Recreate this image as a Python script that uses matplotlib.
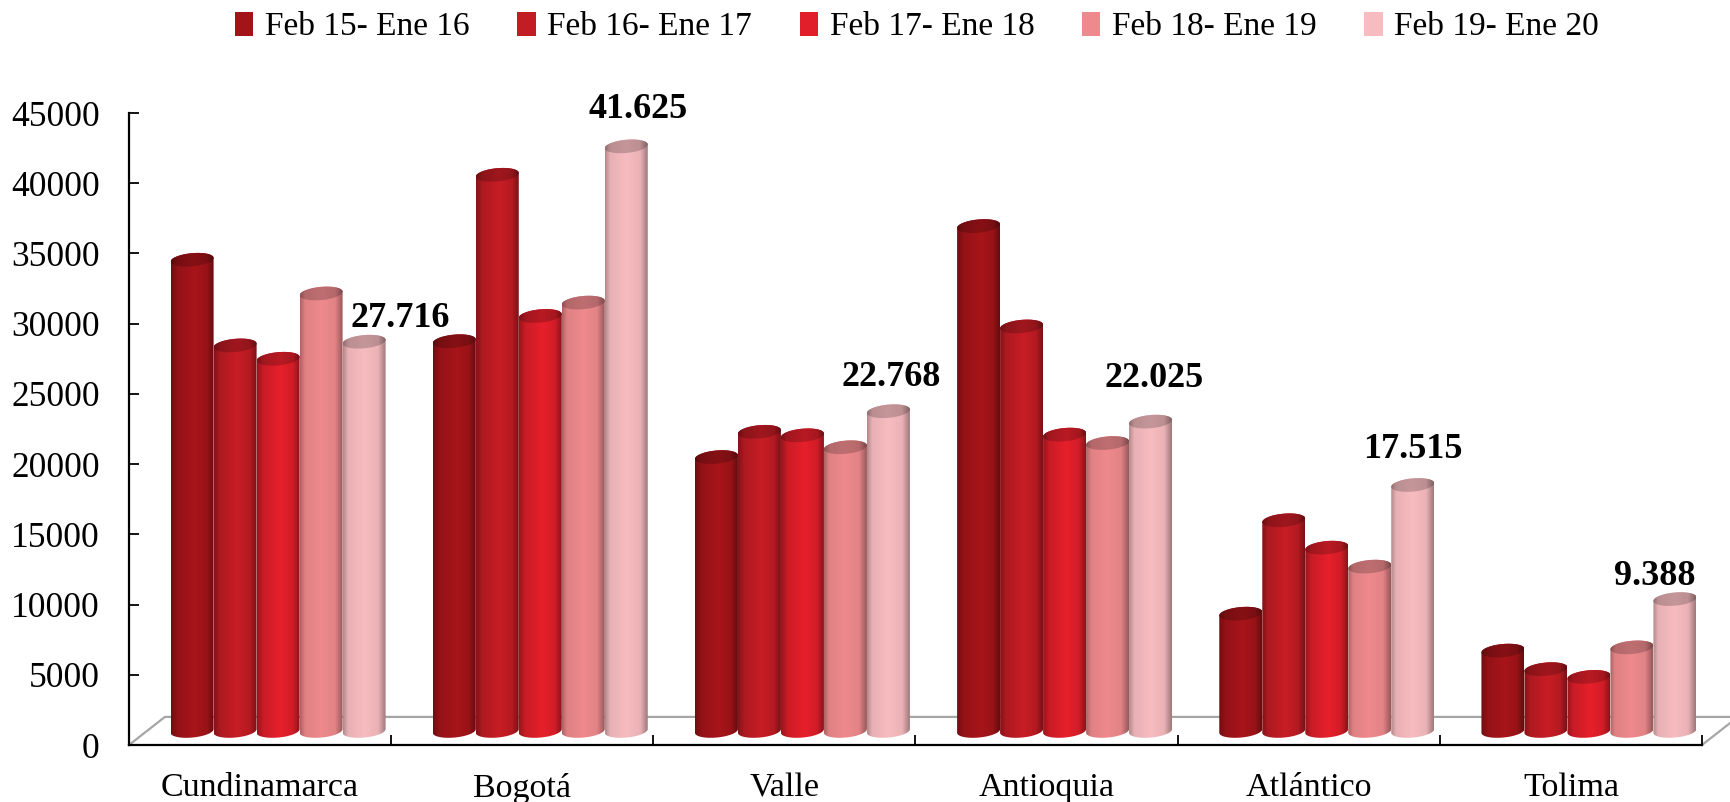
import numpy as np
import matplotlib
matplotlib.use("Agg")
import matplotlib.pyplot as plt
from matplotlib.colors import LinearSegmentedColormap, to_rgb
from matplotlib.patches import Patch, PathPatch
from matplotlib.path import Path

plt.rcParams["font.family"] = ["Liberation Serif", "DejaVu Serif"]

categorias = ["Cundinamarca", "Bogotá", "Valle", "Antioquia", "Atlántico", "Tolima"]
periodos = ["Feb 15- Ene 16", "Feb 16- Ene 17", "Feb 17- Ene 18", "Feb 18- Ene 19", "Feb 19- Ene 20"]

feb15 = [33550, 27750, 19500, 35950, 8350, 5720]
feb16 = [27450, 39600, 21300, 28800, 15000, 4400]
feb17 = [26500, 29550, 21050, 21100, 13050, 3850]
feb18 = [31150, 30500, 20200, 20500, 11700, 5950]
feb19 = [27716, 41625, 22768, 22025, 17515, 9388]
series = [feb15, feb16, feb17, feb18, feb19]

colores = ["#A31419", "#C21C24", "#E01F2A", "#EE8A8D", "#F7BCC0"]
yticks = np.arange(0, 45001, 5000)

# desplazamiento de cada etiqueta respecto a la cima del cilindro (px)
offset_etiquetas = [(36, 23), (12, 37), (3, 34), (4, 43), (0, 35), (-20, 23)]

W, H = 1730, 802
fig = plt.figure(figsize=(W / 100, H / 100), dpi=100)
ax = fig.add_axes([129 / W, 1 - 745 / H, (1702 - 129) / W, (745 - 113) / H])

PROF_Y = 1000      # base del cilindro sobre el suelo
ANCHO = 0.164
SHIFT = 0.0687
B = 470            # semieje vertical de la elipse


def gradiente(color, oscuro=1.0):
    c = np.array(to_rgb(color)) * oscuro
    if sum(to_rgb(color)) > 2:
        # los rosas tienen el borde derecho grisaceo
        stops = [(0, c * 0.72), (0.12, c * 0.94), (0.5, c), (0.82, c * 0.95), (1, c * 0.64)]
    else:
        stops = [(0, c * 0.68), (0.15, c * 0.9), (0.55, c * 1.03), (0.84, c * 0.93), (1, c * 0.62)]
    return LinearSegmentedColormap.from_list("g", [(p, tuple(np.clip(v, 0, 1))) for p, v in stops])


def elipse_pts(cx, cy, a, t):
    return cx + a * np.cos(t), cy + B * np.sin(t) + B * 0.28 * np.cos(t)


def cilindro(ax, x0, w, v, color, z):
    cx, a = x0 + w / 2, w / 2
    base, top = PROF_Y, PROF_Y + v
    grad = np.linspace(0, 1, 128)[None, :]

    # cuerpo: mitad inferior de la elipse de abajo + mitad superior de la de arriba
    t_low = np.linspace(np.pi, 2 * np.pi, 40)
    xb, yb = elipse_pts(cx, base, a, t_low)
    t_up = np.linspace(0, np.pi, 40)
    xt, yt = elipse_pts(cx, top, a, t_up)
    verts = np.vstack([np.c_[xb, yb], np.c_[xt, yt], [[xb[0], yb[0]]]])
    im = ax.imshow(grad, extent=[x0, x0 + w, base - 2 * B, top + 2 * B], aspect="auto",
                   cmap=gradiente(color), vmin=0, vmax=1, zorder=z, interpolation="bilinear")
    im.set_clip_path(PathPatch(Path(verts), transform=ax.transData))

    # tapa superior, mas oscura
    t = np.linspace(0, 2 * np.pi, 80)
    xe, ye = elipse_pts(cx, top, a, t)
    im2 = ax.imshow(grad, extent=[x0, x0 + w, top - 2 * B, top + 2 * B], aspect="auto",
                    cmap=gradiente(color, 0.8), vmin=0, vmax=1, zorder=z + 0.1, interpolation="bilinear")
    im2.set_clip_path(PathPatch(Path(np.c_[xe, ye]), transform=ax.transData))


z = 3
for i in range(len(categorias)):
    inicio = i + 0.5 + SHIFT - ANCHO * len(series) / 2
    for j, s in enumerate(series):
        cilindro(ax, inicio + j * ANCHO, ANCHO, s[i], colores[j], z)
        z += 1

for i, (dx, dy) in enumerate(offset_etiquetas):
    xc = i + 0.5 + SHIFT + ANCHO * (len(series) / 2 - 0.5)
    txt = f"{feb19[i]:,}".replace(",", ".")
    ax.annotate(txt, (xc, feb19[i] + PROF_Y), xytext=(dx, dy), textcoords="offset pixels",
                ha="center", va="center", fontsize=26, fontweight="bold", color="black",
                zorder=100, annotation_clip=False)

# suelo 3D
gris = "#A6A6A6"
ax.plot([0, 0.137, 6.137], [0, 2000, 2000], color=gris, lw=1.6, zorder=1, clip_on=False)
ax.plot([6, 6.137], [0, 2000], color=gris, lw=1.6, zorder=1, clip_on=False)

ax.set_xlim(0, 6)
ax.set_ylim(0, 45000)
ax.set_yticks(yticks)
ax.set_xticks(np.arange(0, 7))
ax.set_xticklabels([])
ax.set_xticks(np.arange(len(categorias)) + 0.5, categorias, minor=True)
ax.tick_params(axis="y", direction="in", length=7.5, width=1.3, labelsize=25.5, pad=21)
ax.tick_params(axis="x", which="major", direction="in", length=7.5, width=1.3)
ax.tick_params(axis="x", which="minor", length=0, labelsize=24.5, pad=20)
for lado in ["top", "right"]:
    ax.spines[lado].set_visible(False)
for lado in ["left", "bottom"]:
    ax.spines[lado].set_linewidth(1.6)
    ax.spines[lado].set_zorder(90)
ax.patch.set_alpha(0)

handles = [Patch(facecolor=c, edgecolor="none") for c in colores]
fig.legend(handles, periodos, ncol=5, loc="center", bbox_to_anchor=(917 / W, 1 - 27 / H),
           frameon=False, fontsize=24, handlelength=0.55, handleheight=0.72,
           handletextpad=0.35, columnspacing=1.43, borderpad=0)

fig.savefig("out.png", dpi=100)
